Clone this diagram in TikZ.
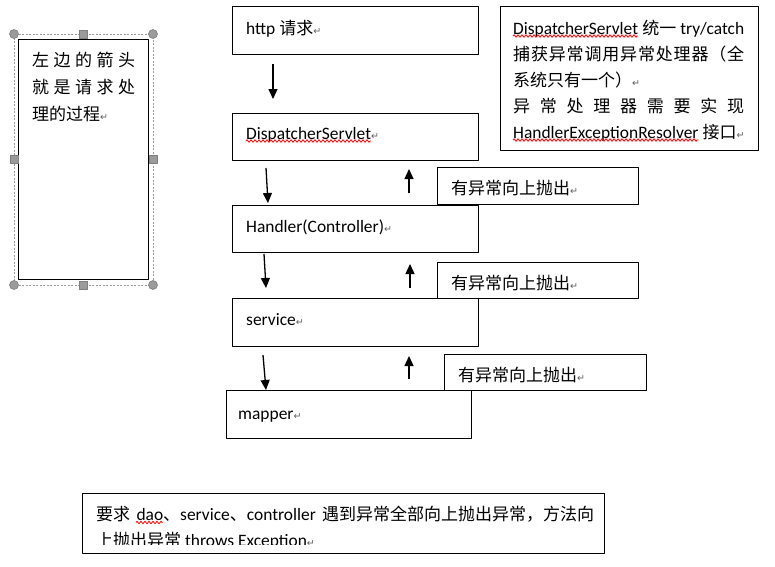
\documentclass[tikz,border=0pt]{standalone}
\usepackage{fontspec}
\setmainfont{Carlito}[Scale=1.025]
\newfontfamily\cjk{Noto Sans CJK SC}
\newfontfamily\symfont{DejaVu Sans}
\usetikzlibrary{arrows.meta,calc,decorations.pathmorphing}
\definecolor{markgray}{RGB}{95,95,95}
\definecolor{handlegray}{RGB}{155,155,155}
\newcommand{\pmark}{{\symfont\fontsize{9.5}{9.5}\selectfont\color{markgray}↵}}
\newcommand{\spread}[2]{\makebox[#1][s]{#2}}
\newcommand{\spreadcjk}[2]{{\cjk\spaceskip=0pt plus 1fil\makebox[#1][s]{#2}}}
\newlength\wordDS
\newlength\wordHR
\newlength\wordDao
\tikzset{
  wordbox/.style={draw,line width=1pt,fill=white,inner sep=0pt,anchor=north west},
  linetext/.style={inner sep=0pt,anchor=west,text height=15pt,text depth=2pt},
  selframe/.style={draw=handlegray,line width=0.8pt,dash pattern=on 2pt off 1.5pt},
  handle/.style={fill=handlegray,draw=gray,line width=0.6pt},
  flow/.style={->,line width=1.3pt},
  squiggle/.style={draw=red,line width=0.8pt,decorate,decoration={zigzag,amplitude=1.3pt,segment length=4pt}}
}
\begin{document}
\settowidth\wordDS{\fontsize{17}{20}\selectfont DispatcherServlet}%
\settowidth\wordHR{\fontsize{17}{20}\selectfont HandlerExceptionResolver}%
\settowidth\wordDao{\fontsize{17}{20}\selectfont dao}%
\begin{tikzpicture}[x=1pt,y=-1pt,font=\fontsize{17}{20}\selectfont,line join=round,>={Triangle[width=9pt,length=10pt]}]
\useasboundingbox (0,0) rectangle (775,566);
\fill[white] (0,0) rectangle (775,566);
% left note with selection handles
\node[wordbox,minimum width=130pt,minimum height=240pt] (tip) at (18,39) {};
\coordinate (selNW) at ($(tip.north west)+(-4,-5)$);
\coordinate (selSE) at ($(tip.south east)+(4,5)$);
\coordinate (selNE) at (selNW -| selSE);
\coordinate (selSW) at (selSE -| selNW);
\draw[selframe] (selNW) rectangle (selSE);
\foreach \c in {selNW,selNE,selSE,selSW} {\draw[handle] (\c) circle[radius=4.5pt];}
\foreach \a/\b in {selNW/selNE,selNE/selSE,selSE/selSW,selSW/selNW} {\draw[handle] ($(\a)!0.5!(\b)+(-4pt,-4pt)$) rectangle +(8pt,8pt);}
\node[linetext] (tipA) at ($(tip.north west)+(14,21)$) {\spreadcjk{103pt}{左 边 的 箭 头}};
\node[linetext] (tipB) at ($(tip.north west)+(14,48)$) {\spreadcjk{103pt}{就 是 请 求 处}};
\node[linetext] (tipC) at ($(tip.north west)+(14,74.5)$) {{\cjk 理的过程}\pmark};
% main flow
\node[wordbox,minimum width=246pt,minimum height=48pt] (http) at (232,6) {};
\node[wordbox,minimum width=246pt,minimum height=47pt] (disp) at (232,113) {};
\node[wordbox,minimum width=201pt,minimum height=37pt] (throwA) at (437,167) {};
\node[wordbox,minimum width=246pt,minimum height=47pt] (handler) at (232,205) {};
\node[wordbox,minimum width=201pt,minimum height=36pt] (throwB) at (437,262) {};
\node[wordbox,minimum width=246pt,minimum height=48pt] (service) at (232,298) {};
\node[wordbox,minimum width=202pt,minimum height=36pt] (throwC) at (444,354) {};
\node[wordbox,minimum width=245pt,minimum height=48pt] (mapper) at (226,390) {};
\node[linetext] (httpT) at ($(http.north west)+(14,21.5)$) {http {\cjk 请求}\pmark};
\node[linetext] (dispT) at ($(disp.north west)+(14,19.5)$) {DispatcherServlet\pmark};
\node[linetext] (handlerT) at ($(handler.north west)+(14,21)$) {Handler(Controller)\pmark};
\node[linetext] (serviceT) at ($(service.north west)+(14,20.5)$) {service\pmark};
\node[linetext] (mapperT) at ($(mapper.north west)+(12,22.5)$) {mapper\pmark};
\foreach \t in {throwA,throwB,throwC} {\node[linetext] (\t T) at ($(\t.north west)+(14,21)$) {{\cjk 有异常向上抛出}\pmark};}
\draw[squiggle] ($(dispT.west)+(0,8.5)$) -- ++(\wordDS,0pt);
\draw[flow] ($(http.south west)+(41,9)$) -- ($(disp.north west)+(41,-14)$);
\draw[flow] ($(disp.south west)+(34,7)$) -- ($(handler.north west)+(36,-2)$);
\draw[flow] ($(handler.south west)+(32,1)$) -- ($(service.north west)+(34,-10)$);
\draw[flow] ($(service.south west)+(31,8)$) -- ($(mapper.north west)+(40,0)$);
\draw[flow] ($(handler.north west)+(177,-12)$) -- ($(disp.south west)+(177,8)$);
\draw[flow] ($(service.north west)+(178,-10)$) -- ($(handler.south west)+(178,11)$);
\draw[flow] ($(mapper.north west)+(183,-11)$) -- ($(service.south west)+(177,9)$);
% right note
\node[wordbox,minimum width=258pt,minimum height=144pt] (note) at (500,6) {};
\node[linetext] (noteA) at ($(note.north west)+(13,21.5)$) {\spread{231pt}{DispatcherServlet {\cjk 统一} try/catch}};
\node[linetext] (noteB) at ($(note.north west)+(13,47.5)$) {\spreadcjk{231pt}{捕 获 异 常 调 用 异 常 处 理 器 （ 全}};
\node[linetext] (noteC) at ($(note.north west)+(13,73.5)$) {{\cjk 系统只有一个）}\pmark};
\node[linetext] (noteD) at ($(note.north west)+(13,100)$) {\spreadcjk{231pt}{异 常 处 理 器 需 要 实 现}};
\node[linetext] (noteE) at ($(note.north west)+(13,125.5)$) {HandlerExceptionResolver {\cjk 接口}\pmark};
\draw[squiggle] ($(noteA.west)+(0,8.5)$) -- ++(\wordDS,0pt);
\draw[squiggle] ($(noteE.west)+(0,8.5)$) -- ++(\wordHR,0pt);
% bottom note
\node[wordbox,minimum width=522pt,minimum height=60pt] (rule) at (82,493) {};
\node[linetext] (ruleA) at ($(rule.north west)+(14,21)$) {\spread{498pt}{{\cjk 要求} dao{\cjk 、}service{\cjk 、}controller {\cjk 遇到异常全部向上抛出异常，方法向}}};
\draw[squiggle] ($(ruleA.west)+(40,8.5)$) -- ++(\wordDao,0pt);
\begin{scope}
\clip (rule.north west) rectangle ($(rule.south east)+(0,-10)$);
\node[linetext] (ruleB) at ($(rule.north west)+(14,47)$) {{\cjk 上抛出异常} throws Exception\pmark};
\end{scope}
\end{tikzpicture}
\end{document}
